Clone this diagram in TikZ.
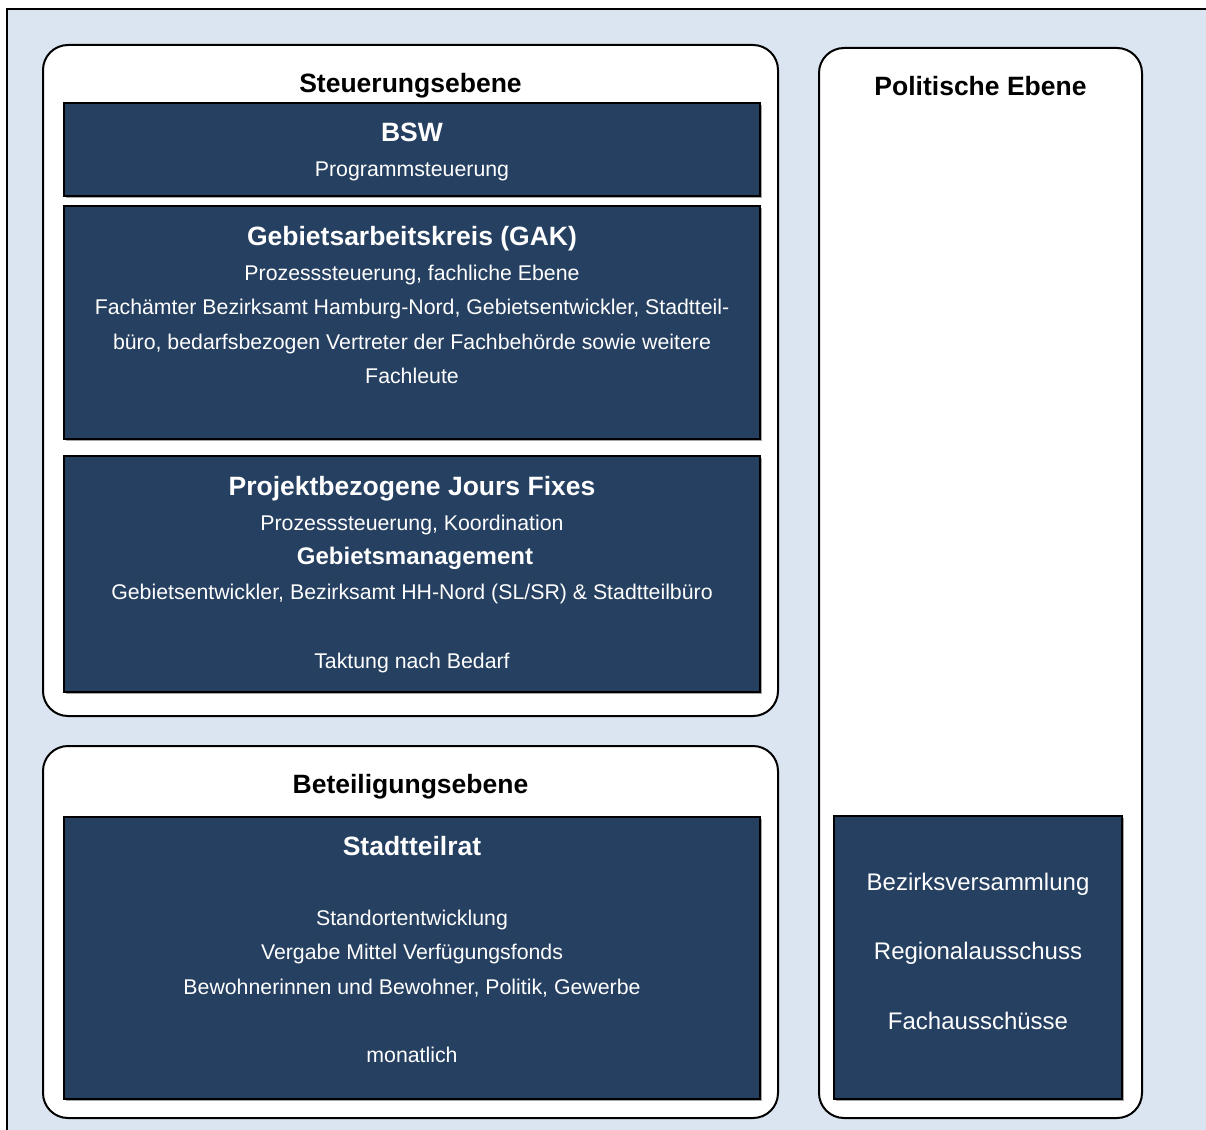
\documentclass[tikz,border=0pt]{standalone}
\usepackage{fontspec}
\setmainfont{Liberation Sans}
\definecolor{bgblue}{HTML}{DBE5F1}
\definecolor{navy}{HTML}{264061}
\tikzset{
  lvlbox/.style={draw=black, line width=2pt, fill=white, rounded corners=25pt, inner sep=0pt},
  dbox/.style={draw=black, line width=2pt, fill=navy, inner sep=0pt},
  dshadow/.style={fill=black!35, draw=none, inner sep=0pt},
  ttl/.style={anchor=base, inner sep=0pt, text=black, font=\bfseries\fontsize{26.5}{30}\selectfont},
  hd/.style={anchor=base, inner sep=0pt, text=white, font=\bfseries\fontsize{26.5}{30}\selectfont},
  hdm/.style={anchor=base, inner sep=0pt, text=white, font=\bfseries\fontsize{24}{28}\selectfont},
  bd/.style={anchor=base, inner sep=0pt, text=white, font=\fontsize{21.3}{25}\selectfont},
  pbd/.style={anchor=base, inner sep=0pt, text=white, font=\fontsize{24}{28}\selectfont},
}
\begin{document}
\begin{tikzpicture}[x=1pt, y=-1pt]
\useasboundingbox (0,0) rectangle (1206,1129);
\begin{scope}
\clip (0,0) rectangle (1206,1129);
\draw[line width=1.5pt, fill=bgblue] (7,9) rectangle (1230,1150);
\end{scope}
% level boxes
\node[lvlbox, minimum width=735pt, minimum height=671pt] (steu) at (410.5,380.5) {};
\node[lvlbox, minimum width=735pt, minimum height=372pt] (bet) at (410.5,932) {};
\node[lvlbox, minimum width=323pt, minimum height=1070pt] (pol) at (980.5,583) {};
% shadows
\node[dshadow, minimum width=696pt, minimum height=92pt] at (413.5,151.5) {};
\node[dshadow, minimum width=696pt, minimum height=233pt] at (413.5,324.5) {};
\node[dshadow, minimum width=696pt, minimum height=236pt] at (413.5,576) {};
\node[dshadow, minimum width=696pt, minimum height=282pt] at (413.5,959.5) {};
\node[dshadow, minimum width=288pt, minimum height=283pt] at (979.5,959.5) {};
% dark boxes
\node[dbox, minimum width=696pt, minimum height=92pt] (bsw) at (412,149.5) {};
\node[dbox, minimum width=696pt, minimum height=233pt] (gak) at (412,322.5) {};
\node[dbox, minimum width=696pt, minimum height=236pt] (jf) at (412,574) {};
\node[dbox, minimum width=696pt, minimum height=282pt] (str) at (412,957.5) {};
\node[dbox, minimum width=288pt, minimum height=283pt] (pbox) at (978,957.5) {};
% titles
\node[ttl] (tsteu) at (410.5,92.3) {Steuerungsebene};
\node[ttl] (tbet) at (410.5,793.7) {Beteiligungsebene};
\node[ttl] (tpol) at (980.5,95.3) {Politische Ebene};
% BSW
\node[hd] (hbsw) at (412,141.7) {BSW};
\node[bd] (bsw1) at (412,176.7) {Programmsteuerung};
% GAK
\node[hd] (hgak) at (412,245) {Gebietsarbeitskreis (GAK)};
\node[bd] (gak1) at (412,280) {Prozesssteuerung, fachliche Ebene};
\node[bd] (gak2) at (412,314.5) {Fachämter Bezirksamt Hamburg-Nord, Gebietsentwickler, Stadtteil-};
\node[bd] (gak3) at (412,349) {büro, bedarfsbezogen Vertreter der Fachbehörde sowie weitere};
\node[bd] (gak4) at (412,383.5) {Fachleute};
% Jours Fixes
\node[hd] (hjf) at (412,495.3) {Projektbezogene Jours Fixes};
\node[bd] (jf1) at (412,530) {Prozesssteuerung, Koordination};
\node[hdm] (jf2) at (415,564.7) {Gebietsmanagement};
\node[bd] (jf3) at (412,599) {Gebietsentwickler, Bezirksamt HH-Nord (SL/SR) \& Stadtteilbüro};
\node[bd] (jf4) at (412,668.5) {Taktung nach Bedarf};
% Stadtteilrat
\node[hd] (hstr) at (412,855) {Stadtteilrat};
\node[bd] (str1) at (412,925) {Standortentwicklung};
\node[bd] (str2) at (412,959.5) {Vergabe Mittel Verfügungsfonds};
\node[bd] (str3) at (412,994) {Bewohnerinnen und Bewohner, Politik, Gewerbe};
\node[bd] (str4) at (412,1062.7) {monatlich};
% Politische Ebene
\node[pbd] (p1) at (978,890) {Bezirksversammlung};
\node[pbd] (p2) at (978,959.5) {Regionalausschuss};
\node[pbd] (p3) at (978,1029) {Fachausschüsse};
\end{tikzpicture}
\end{document}
